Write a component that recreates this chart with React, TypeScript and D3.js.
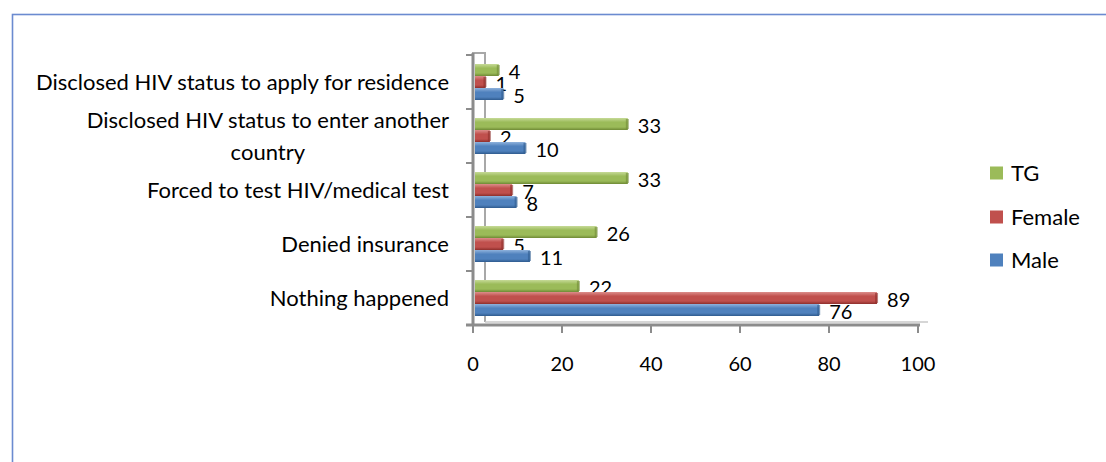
import React, { useEffect, useRef } from "react";
import * as d3 from "d3";

const categories = [
  "Disclosed HIV status to apply for residence",
  "Disclosed HIV status to enter another country",
  "Forced to test HIV/medical test",
  "Denied insurance",
  "Nothing happened",
];
const categoryLines = [
  ["Disclosed HIV status to apply for residence"],
  ["Disclosed HIV status to enter another", "country"],
  ["Forced to test HIV/medical test"],
  ["Denied insurance"],
  ["Nothing happened"],
];
const seriesNames = ["TG", "Female", "Male"];
const tgValues = [4, 33, 33, 26, 22];
const femaleValues = [1, 2, 7, 5, 89];
const maleValues = [5, 10, 8, 11, 76];
const xTicks = [0, 20, 40, 60, 80, 100];

const colors: Record<string, { base: string; light: string; dark: string }> = {
  TG: { base: "#9bbb59", light: "#c6da97", dark: "#6f8a35" },
  Female: { base: "#c0504d", light: "#dc8e8b", dark: "#8e2f2c" },
  Male: { base: "#4f81bd", light: "#8fb2dc", dark: "#2f5b8e" },
};

const FONT = "Lato, 'Open Sans', sans-serif";
const FS = 22;
const FS_NUM = 20;

export default function App() {
  const ref = useRef<SVGSVGElement>(null);
  useEffect(() => {
    const svg = d3.select(ref.current);
    svg.selectAll("*").remove();
    const W = 1106, H = 462;
    const values: Record<string, number[]> = { TG: tgValues, Female: femaleValues, Male: maleValues };

    const x = d3.scaleLinear().domain([0, 100]).range([473, 918]);
    const y = d3.scaleBand<string>().domain(categories).range([55, 325]).paddingInner(1 / 3).paddingOuter(1 / 6);
    const ys = d3.scaleBand<string>().domain(seriesNames).range([0, y.bandwidth()]);

    const defs = svg.append("defs");
    seriesNames.forEach((s) => {
      const g = defs.append("linearGradient").attr("id", "g-" + s).attr("x1", 0).attr("y1", 0).attr("x2", 0).attr("y2", 1);
      g.append("stop").attr("offset", "0%").attr("stop-color", colors[s].light);
      g.append("stop").attr("offset", "35%").attr("stop-color", colors[s].base);
      g.append("stop").attr("offset", "75%").attr("stop-color", colors[s].base);
      g.append("stop").attr("offset", "100%").attr("stop-color", colors[s].dark);
    });

    // frame
    svg.append("rect").attr("x", 12.5).attr("y", 14.5).attr("width", W).attr("height", H)
      .attr("fill", "white").attr("stroke", "#6b8bd0").attr("stroke-width", 1.6);

    const axisColor = "#8c8c8c";
    const y0 = y.range()[0] - 2, y1 = y.range()[1];
    // back wall
    svg.append("line").attr("x1", x(0) + 12).attr("x2", x(0) + 12).attr("y1", y0).attr("y2", y1 - 3)
      .attr("stroke", "#a8a8a8").attr("stroke-width", 2);
    svg.append("line").attr("x1", x(0) - 1).attr("x2", x(0) + 13).attr("y1", y0).attr("y2", y0)
      .attr("stroke", "#a8a8a8").attr("stroke-width", 2);
    // floor back edge
    svg.append("line").attr("x1", x(0) + 12).attr("x2", x(100) + 10).attr("y1", y1 - 3).attr("y2", y1 - 3)
      .attr("stroke", "#c8c8c8").attr("stroke-width", 1.5);

    // bars
    categories.forEach((c, i) => {
      seriesNames.forEach((s) => {
        const v = values[s][i];
        const by = (y(c) as number) + (ys(s) as number);
        const bh = ys.bandwidth();
        const xs = x(0) + 2, xe = x(v) + 8;
        svg.append("rect").attr("x", xs).attr("y", by).attr("width", Math.max(0, xe - xs)).attr("height", bh)
          .attr("fill", `url(#g-${s})`);
        svg.append("rect").attr("x", xe - 2).attr("y", by + 1).attr("width", 3).attr("height", bh - 2)
          .attr("fill", colors[s].dark).attr("opacity", 0.6);
        svg.append("text").attr("x", x(v) + 18).attr("y", by + bh / 2 + 2).attr("dy", "0.35em")
          .attr("font-family", FONT).attr("font-size", FS_NUM).attr("fill", "#000").text(String(v));
      });
    });

    // vertical axis
    svg.append("line").attr("x1", x(0)).attr("x2", x(0)).attr("y1", y0).attr("y2", y1 + 1)
      .attr("stroke", axisColor).attr("stroke-width", 3);
    const bounds = categories.map((c) => (y(c) as number) - (y.step() - y.bandwidth()) / 2).concat([y1]);
    bounds.forEach((b) => {
      svg.append("line").attr("x1", x(0) - 7).attr("x2", x(0)).attr("y1", b).attr("y2", b)
        .attr("stroke", axisColor).attr("stroke-width", 2);
    });
    // horizontal axis
    svg.append("line").attr("x1", x(0) - 7).attr("x2", x(100) + 2).attr("y1", y1).attr("y2", y1)
      .attr("stroke", axisColor).attr("stroke-width", 3);
    xTicks.forEach((t) => {
      svg.append("line").attr("x1", x(t)).attr("x2", x(t)).attr("y1", y1).attr("y2", y1 + 8)
        .attr("stroke", axisColor).attr("stroke-width", 2);
      svg.append("text").attr("x", x(t)).attr("y", 371).attr("text-anchor", "middle")
        .attr("font-family", FONT).attr("font-size", FS_NUM).attr("fill", "#000").text(String(t));
    });

    // category labels
    const right = 449;
    categories.forEach((c, i) => {
      const lines = categoryLines[i];
      const cy = (y(c) as number) + y.bandwidth() / 2;
      const lh = 32;
      const g = svg.append("g");
      const texts = lines.map((ln, j) =>
        g.append("text").attr("y", cy + (j - (lines.length - 1) / 2) * lh).attr("dy", "0.35em")
          .attr("font-family", FONT).attr("font-size", FS).attr("fill", "#000").text(ln)
      );
      const widths = texts.map((t) => (t.node() as SVGTextElement).getComputedTextLength());
      const maxW = Math.max(...widths);
      const center = right - maxW / 2;
      texts.forEach((t) => t.attr("x", center).attr("text-anchor", "middle"));
    });

    // legend
    const legendY = [173, 217, 260];
    seriesNames.forEach((s, i) => {
      svg.append("rect").attr("x", 990).attr("y", legendY[i] - 6.5).attr("width", 13).attr("height", 13)
        .attr("fill", colors[s].base);
      svg.append("text").attr("x", 1011).attr("y", legendY[i]).attr("dy", "0.35em")
        .attr("font-family", FONT).attr("font-size", FS).attr("fill", "#000").text(s);
    });
  }, []);

  return (
    <svg ref={ref} width={1106} height={462} style={{ position: "absolute", left: 0, top: 0, display: "block" }} />
  );
}
